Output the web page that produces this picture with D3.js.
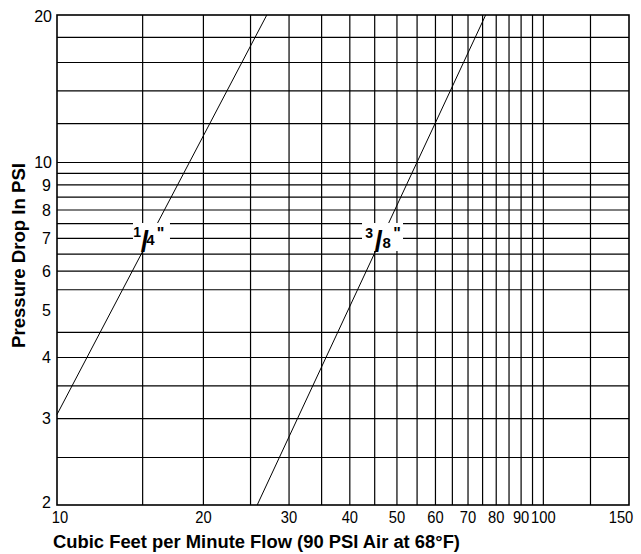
<!DOCTYPE html>
<html>
<head>
<meta charset="utf-8">
<script src="https://cdn.jsdelivr.net/npm/d3@7"></script>
<style>
  html, body { margin: 0; padding: 0; background: #fff; }
  svg { display: block; }
</style>
</head>
<body>
<svg id="chart" width="641" height="554"></svg>
<script>
// ---- data ----
const xTickValues = [10, 20, 30, 40, 50, 60, 70, 80, 90, 100, 150];
const yTickValues = [2, 3, 4, 5, 6, 7, 8, 9, 10, 20];
const xGridValues = [15, 20, 25, 30, 35, 40, 45, 50, 55, 60, 65, 70, 75, 80, 85, 90, 95, 100, 125];
const yGridValues = [2.5, 3, 3.5, 4, 4.5, 5.5, 6, 6.5, 7, 7.5, 8, 8.5, 9, 9.5, 10, 12, 14, 16, 18];
const hoseNumerators = ["1", "3"];
const hoseDenominators = ["4", "8"];
const hoseQuarter = [ {flow: 10, psi: 3.06}, {flow: 27.0, psi: 20} ];
const hoseThreeEighths = [ {flow: 25.8, psi: 2}, {flow: 76.1, psi: 20} ];
const labelFlow = [15.5, 46.5];
const labelPsi = [7, 7];
const xTitle = "Cubic Feet per Minute Flow (90 PSI Air at 68°F)";
const yTitle = "Pressure Drop In PSI";

// ---- layout ----
const L = 57, R = 629, T = 15, B = 505;
const svg = d3.select("#chart");
const x = d3.scaleLog().domain([10, 150]).range([L, R]);
const y = d3.scaleLog().domain([2, 20]).range([B, T]);
const font = "'Liberation Sans', Arial, Helvetica, sans-serif";

// grid
const grid = svg.append("g");
grid.selectAll("line.vx").data(xGridValues).join("line")
  .attr("x1", d => x(d)).attr("x2", d => x(d))
  .attr("y1", T).attr("y2", B)
  .attr("stroke", "#000").attr("stroke-width", 1.2);
grid.selectAll("line.hy").data(yGridValues).join("line")
  .attr("y1", d => y(d)).attr("y2", d => y(d))
  .attr("x1", L).attr("x2", R)
  .attr("stroke", "#000").attr("stroke-width", 1.2);

// data lines
const line = d3.line().x(d => x(d.flow)).y(d => y(d.psi));
const seriesList = [hoseQuarter, hoseThreeEighths];
svg.append("g").selectAll("path").data(seriesList).join("path")
  .attr("d", line).attr("fill", "none")
  .attr("stroke", "#000").attr("stroke-width", 1);

// fraction labels with white backgrounds (one text element each, positioned tspans)
const fracLayout = [
  {x0: -16.6, x1: 20.4, num: -12.5, numY: -1.2, sl: -4.8, den: 0.8, denY: 7, q: 11},
  {x0: -19.6, x1: 21.4, num: -12.5, numY: -0.2, sl: -3, den: 5, denY: 10, q: 15.4}
];
const labels = svg.append("g");
hoseNumerators.forEach((num, i) => {
  const cx = x(labelFlow[i]), cy = y(labelPsi[i]);
  const f = fracLayout[i];
  labels.append("rect")
    .attr("x", cx + f.x0).attr("y", cy - 15.4)
    .attr("width", f.x1 - f.x0).attr("height", 28)
    .attr("fill", "#fff");
  const t = labels.append("text")
    .attr("text-anchor", "middle")
    .attr("font-family", font).attr("font-weight", "bold")
    .attr("fill", "#000");
  t.append("tspan").attr("x", cx + f.num).attr("y", cy + f.numY).attr("font-size", 14).text(num);
  t.append("tspan").attr("x", cx + f.sl).attr("y", cy + 14).attr("font-size", 29).text("/");
  t.append("tspan").attr("x", cx + f.den).attr("y", cy + f.denY).attr("font-size", 15).text(hoseDenominators[i]);
  t.append("tspan").attr("x", cx + f.q).attr("y", cy + 0.5).attr("font-size", 16).text("\"");
});

// frame
svg.append("rect")
  .attr("x", L).attr("y", T).attr("width", R - L).attr("height", B - T)
  .attr("fill", "none").attr("stroke", "#000").attr("stroke-width", 1.6);

// y tick labels
svg.append("g").selectAll("text").data(yTickValues).join("text")
  .attr("x", d => d >= 10 ? 52 : 51)
  .attr("y", d => y(d) + (d === 2 ? -3 : d === 20 ? 1.5 : 0))
  .attr("dy", "0.36em")
  .attr("text-anchor", "end")
  .attr("font-family", font).attr("font-size", 16)
  .attr("fill", "#000")
  .text(d => d);

// x tick labels (slightly condensed)
svg.append("g").selectAll("text").data(xTickValues).join("text")
  .attr("transform", d => `translate(${x(d) + (d === 10 ? 3 : d === 150 ? -8 : 0)},523) scale(0.92,1)`)
  .attr("text-anchor", "middle")
  .attr("font-family", font).attr("font-size", 16)
  .attr("fill", "#000")
  .text(d => d);

// axis titles
svg.append("text")
  .attr("x", 53).attr("y", 548)
  .attr("font-family", font).attr("font-weight", "bold").attr("font-size", 17.5)
  .attr("textLength", 407).attr("lengthAdjust", "spacingAndGlyphs")
  .attr("fill", "#000")
  .text(xTitle);
svg.append("text")
  .attr("transform", "translate(25,255.5) rotate(-90)")
  .attr("text-anchor", "middle")
  .attr("font-family", font).attr("font-weight", "bold").attr("font-size", 18)
  .attr("textLength", 185).attr("lengthAdjust", "spacingAndGlyphs")
  .attr("fill", "#000")
  .text(yTitle);
</script>
</body>
</html>
